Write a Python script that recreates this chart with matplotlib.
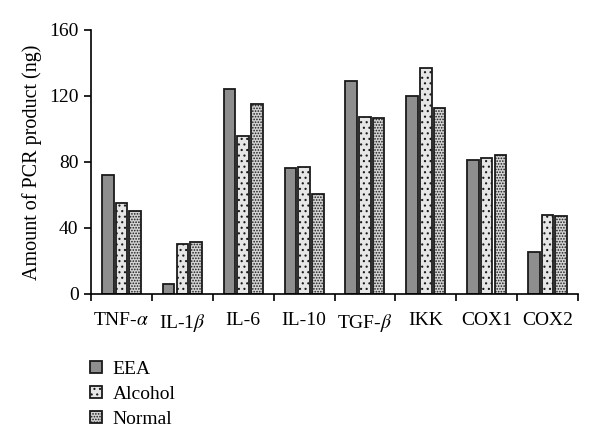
import matplotlib
matplotlib.use("Agg")
import matplotlib.pyplot as plt
import numpy as np

plt.rcParams['font.family'] = ['Liberation Serif', 'DejaVu Serif']
plt.rcParams['mathtext.fontset'] = 'stix'
plt.rcParams['hatch.color'] = '#666666'
plt.rcParams['hatch.linewidth'] = 0.8

categories = ['TNF-$\\alpha$', 'IL-1$\\beta$', 'IL-6', 'IL-10', 'TGF-$\\beta$', 'IKK', 'COX1', 'COX2']
eea = [72, 6, 124, 76.5, 129, 120, 81.5, 25.5]
alcohol = [55, 30.5, 96, 77, 107, 137, 82.5, 48]
normal = [50, 31.5, 115, 60.5, 106.5, 112.5, 84, 47.5]
series_names = ['EEA', 'Alcohol', 'Normal']
yticks = [0, 40, 80, 120, 160]

fig = plt.figure(figsize=(6.0, 4.48), dpi=100)
ax = fig.add_axes([0.1517, 0.34375, 0.8116, 0.5893])

x = np.arange(len(categories)) + 0.5
w = 0.19
off = 0.225
b1 = ax.bar(x - off, eea, w, facecolor='#8e8e8e', edgecolor='#1a1a1a', linewidth=1.3, label=series_names[0])
b2 = ax.bar(x, alcohol, w, facecolor='#e6e6e6', edgecolor='#1a1a1a', linewidth=1.3, hatch='...', label=series_names[1])
b3 = ax.bar(x + off, normal, w, facecolor='#d4d4d4', edgecolor='#1a1a1a', linewidth=1.3, hatch='......', label=series_names[2])

ax.set_xlim(0, len(categories))
ax.set_ylim(0, 160)
ax.set_yticks(yticks)
ax.set_xticks(np.arange(len(categories) + 1))
ax.set_xticklabels([])
ax.set_xticks(x, minor=True)
ax.set_xticklabels(categories, minor=True)
ax.tick_params(axis='x', which='minor', length=0, pad=13, labelsize=14)
ax.tick_params(axis='x', which='major', direction='out', length=5, width=1.2)
ax.tick_params(axis='y', direction='out', length=5, width=1.2, labelsize=14, pad=4)
for s in ['top', 'right']:
    ax.spines[s].set_visible(False)
for s in ['left', 'bottom']:
    ax.spines[s].set_linewidth(1.2)
ax.set_ylabel('Amount of PCR product (ng)', fontsize=14.5, labelpad=5)

fig.legend(handles=[b1, b2, b3], labels=series_names, loc='upper left',
           bbox_to_anchor=(0.15, 0.195), frameon=False, fontsize=14,
           handlelength=0.6, handleheight=0.6, handletextpad=0.55, labelspacing=0.42,
           borderaxespad=0, borderpad=0)

fig.savefig('out.png', dpi=100)
